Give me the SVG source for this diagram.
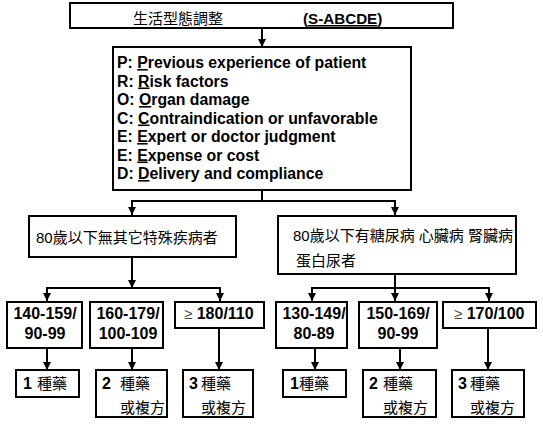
<svg xmlns="http://www.w3.org/2000/svg" width="543" height="430" viewBox="0 0 543 430">
<defs>
<marker id="ah" viewBox="0 0 10 10" refX="10" refY="5" markerWidth="8" markerHeight="8" orient="auto" markerUnits="userSpaceOnUse"><path d="M0,0 L10,5 L0,10 z" fill="#000"/></marker>
<style>
.box{fill:#fff;stroke:#000;stroke-width:2}
.c{fill:none;stroke:#000;stroke-width:2;marker-end:url(#ah)}
.t{font-family:"Liberation Sans","Noto Sans CJK TC",Arial,sans-serif;fill:#000}
.cjk{font-family:"Noto Sans CJK TC","Liberation Sans",sans-serif;fill:#000;font-size:15px}
.b{font-weight:bold}
.n{font-size:16px;font-weight:bold;text-anchor:middle}
.u{text-decoration:underline}
.ge{font-weight:normal;fill:#444;font-size:15px}
</style>
</defs>
<rect width="543" height="430" fill="#fff"/>
<g id="connectors">
<path class="c" d="M262,28 V47"/>
<path class="c" d="M262,190 V201 H132 V215"/>
<path class="c" d="M262,201 H395 V215"/>
<path class="c" d="M132,257 V288"/>
<path class="c" d="M132,288 H47 V301"/>
<path class="c" d="M132,288 H220 V301"/>
<path class="c" d="M395,274 V301"/>
<path class="c" d="M395,288 H312 V301"/>
<path class="c" d="M395,288 H489 V301"/>
<path class="c" d="M47,348 V370"/>
<path class="c" d="M132,348 V370"/>
<path class="c" d="M219,328 V370"/>
<path class="c" d="M315,348 V370"/>
<path class="c" d="M400,348 V370"/>
<path class="c" d="M488,328 V370"/>
</g>
<g id="top">
<rect class="box" x="70" y="3" width="383" height="25"/>
<text class="cjk" x="133" y="24">生活型態調整</text>
<text class="t b" x="303" y="24" font-size="15.2">(<tspan class="u">S-ABCDE</tspan>)</text>
</g>
<g id="sabcde">
<rect class="box" x="113" y="47" width="298" height="143"/>
<g class="t b" font-size="15.8">
<text x="117" y="68">P: <tspan class="u">P</tspan>revious experience of patient</text>
<text x="117" y="86.5">R: <tspan class="u">R</tspan>isk factors</text>
<text x="117" y="105">O: <tspan class="u">O</tspan>rgan damage</text>
<text x="117" y="123.5">C: <tspan class="u">C</tspan>ontraindication or unfavorable</text>
<text x="117" y="142">E: <tspan class="u">E</tspan>xpert or doctor judgment</text>
<text x="117" y="160.5">E: <tspan class="u">E</tspan>xpense or cost</text>
<text x="117" y="179">D: <tspan class="u">D</tspan>elivery and compliance</text>
</g>
</g>
<g id="left-group">
<rect class="box" x="29" y="216" width="207" height="41"/>
<text class="t" x="36" y="243" font-size="15">80歲以下無其它特殊疾病者</text>
</g>
<g id="right-group">
<rect class="box" x="278" y="216" width="238" height="58"/>
<text class="t" x="293" y="241" font-size="15">80歲以下有糖尿病 心臟病 腎臟病</text>
<text class="t" x="296" y="266" font-size="15">蛋白尿者</text>
</g>
<g id="l1">
<rect class="box" x="7" y="302" width="75" height="46"/>
<text class="t n" x="45" y="319">140-159/</text>
<text class="t n" x="45" y="339">90-99</text>
</g>
<g id="l2">
<rect class="box" x="90" y="302" width="73" height="46"/>
<text class="t n" x="128" y="319">160-179/</text>
<text class="t n" x="128" y="339">100-109</text>
</g>
<g id="l3">
<rect class="box" x="175" y="302" width="89" height="26"/>
<text class="t b" x="184" y="319" font-size="16"><tspan class="ge">≥</tspan> 180/110</text>
</g>
<g id="r1">
<rect class="box" x="276" y="302" width="71" height="46"/>
<text class="t n" x="314" y="319">130-149/</text>
<text class="t n" x="314" y="339">80-89</text>
</g>
<g id="r2">
<rect class="box" x="359" y="302" width="78" height="46"/>
<text class="t n" x="398" y="319">150-169/</text>
<text class="t n" x="398" y="339">90-99</text>
</g>
<g id="r3">
<rect class="box" x="443" y="302" width="93" height="26"/>
<text class="t b" x="454" y="319" font-size="16"><tspan class="ge">≥</tspan> 170/100</text>
</g>
<g id="l1d">
<rect class="box" x="16" y="370" width="63" height="27"/>
<text class="t b" x="23" y="389" font-size="16">1</text>
<text class="cjk" x="37" y="389">種藥</text>
</g>
<g id="l2d">
<rect class="box" x="96" y="370" width="71" height="47"/>
<text class="t b" x="102" y="389" font-size="16">2</text>
<text class="cjk" x="120" y="389">種藥</text>
<text class="cjk" x="120" y="413">或複方</text>
</g>
<g id="l3d">
<rect class="box" x="183" y="370" width="70" height="47"/>
<text class="t b" x="189" y="389" font-size="16">3</text>
<text class="cjk" x="201" y="389">種藥</text>
<text class="cjk" x="201" y="413">或複方</text>
</g>
<g id="r1d">
<rect class="box" x="283" y="370" width="63" height="27"/>
<text class="t b" x="290" y="389" font-size="16">1</text>
<text class="cjk" x="299" y="389">種藥</text>
</g>
<g id="r2d">
<rect class="box" x="363" y="370" width="73" height="47"/>
<text class="t b" x="369" y="389" font-size="16">2</text>
<text class="cjk" x="383" y="389">種藥</text>
<text class="cjk" x="383" y="413">或複方</text>
</g>
<g id="r3d">
<rect class="box" x="452" y="370" width="72" height="47"/>
<text class="t b" x="458" y="389" font-size="16">3</text>
<text class="cjk" x="470" y="389">種藥</text>
<text class="cjk" x="470" y="413">或複方</text>
</g>
</svg>
